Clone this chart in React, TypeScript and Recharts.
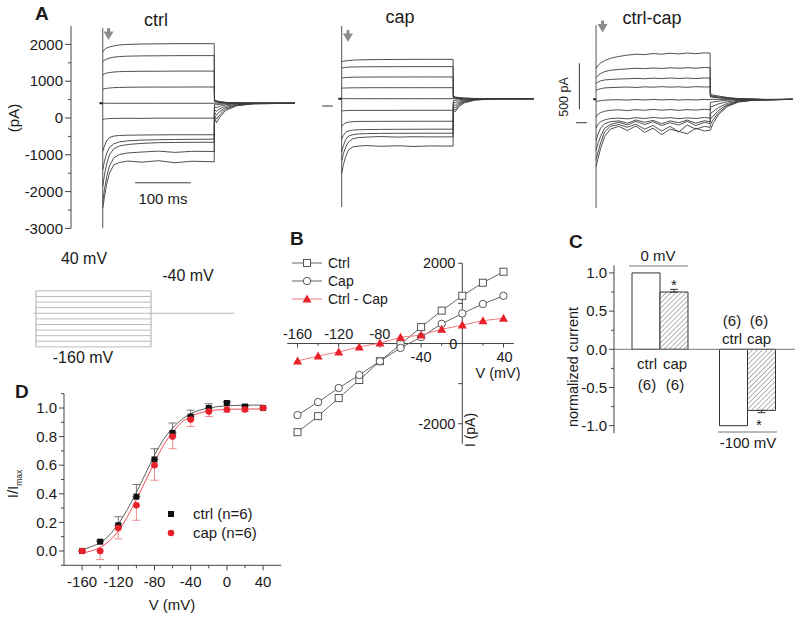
import React from 'react';
import {
  ComposedChart, Line, XAxis, YAxis, ReferenceLine, ReferenceDot, Scatter, Bar, ErrorBar,
} from 'recharts';

const FONT = 'Arial, "Liberation Sans", Helvetica, sans-serif';
const INK = '#1a1a1a';
const TRACE = '#3c3c3c';
const AXIS = '#444';
const RED = '#e8202a';

// ---------------- Panel A: current traces ----------------
const STEP_MV = [40, 20, 0, -20, -40, -60, -80, -100, -120, -140, -160];
const T_A = [0, 3, 7, 12, 20, 30, 45, 70, 100, 130, 160, 200, 200.5, 204, 210, 220, 240, 270, 345];
const CTRL_HOLD = 400;
const CTRL_TRACES = [
  [1800, 1860, 1900, 1930, 1960, 1985, 2000, 2010, 2015, 2020, 2020, 2020, 500, 470, 445, 425, 410, 405, 400],
  [1530, 1570, 1600, 1630, 1655, 1670, 1680, 1688, 1690, 1694, 1695, 1695, 480, 460, 440, 422, 410, 404, 400],
  [1170, 1200, 1220, 1235, 1250, 1260, 1265, 1270, 1270, 1275, 1275, 1275, 460, 445, 430, 418, 408, 403, 400],
  [780, 795, 805, 815, 825, 830, 835, 840, 840, 840, 842, 842, 440, 430, 420, 412, 405, 402, 400],
  [400, 400, 400, 400, 400, 400, 400, 400, 400, 400, 400, 400, 400, 400, 400, 400, 400, 400, 400],
  [-40, -30, -20, -15, -10, -10, -8, -10, -5, -5, -5, -5, 360, 360, 370, 385, 395, 400, 400],
  [-900, -760, -620, -530, -490, -475, -468, -462, -458, -455, -455, -455, 300, 280, 320, 360, 385, 397, 400],
  [-1410, -1180, -960, -800, -700, -650, -620, -600, -590, -585, -580, -575, 230, 180, 250, 320, 370, 393, 400],
  [-1860, -1550, -1250, -1000, -830, -760, -720, -690, -670, -665, -660, -660, 160, 80, 170, 280, 355, 390, 400],
  [-2270, -1950, -1600, -1300, -1080, -990, -950, -925, -900, -935, -905, -910, 80, -30, 90, 240, 340, 387, 400],
  [-2450, -2150, -1800, -1500, -1270, -1210, -1170, -1200, -1160, -1215, -1175, -1190, 20, -130, 20, 200, 330, 385, 400],
];
const CTRL_TRANSIENT = [2450, -3000];

const CAP_HOLD = 199;
const CAP_TRACES = [
  [1205, 1215, 1225, 1235, 1245, 1252, 1258, 1262, 1265, 1268, 1268, 1268, 260, 245, 230, 215, 205, 201, 199],
  [1030, 1040, 1048, 1055, 1060, 1064, 1066, 1068, 1069, 1070, 1070, 1070, 245, 235, 222, 210, 203, 200, 199],
  [760, 768, 774, 778, 782, 785, 786, 788, 788, 789, 789, 789, 230, 222, 214, 206, 202, 200, 199],
  [485, 488, 490, 492, 494, 496, 497, 498, 498, 498, 498, 498, 215, 210, 206, 203, 201, 200, 199],
  [199, 199, 199, 199, 199, 199, 199, 199, 199, 199, 199, 199, 199, 199, 199, 199, 199, 199, 199],
  [-135, -130, -125, -122, -120, -118, -118, -118, -118, -116, -116, -116, 150, 155, 170, 185, 194, 198, 199],
  [-560, -500, -460, -440, -425, -420, -418, -417, -416, -415, -414, -414, 90, 90, 130, 165, 188, 196, 199],
  [-900, -800, -720, -680, -655, -645, -640, -636, -633, -632, -630, -630, 30, 20, 90, 145, 182, 195, 199],
  [-1250, -1080, -920, -820, -780, -760, -750, -745, -742, -741, -740, -740, -30, -40, 50, 125, 175, 193, 199],
  [-1500, -1300, -1120, -980, -890, -860, -845, -830, -845, -835, -840, -838, -90, -100, 15, 105, 168, 192, 199],
  [-1830, -1600, -1380, -1200, -1110, -1090, -1075, -1095, -1080, -1100, -1085, -1090, -150, -155, -20, 85, 160, 190, 199],
];
const CAP_TRANSIENT = [2200, -2745];

const T_C = [0, 3, 8, 15, 25, 40, 55, 70, 85, 100, 115, 130, 145, 160, 175, 190, 200, 200.5, 205, 215, 230, 250, 275, 300, 345];
const DIFF_HOLD = 254;
const DIFF_TRACES = [
  [590, 620, 650, 675, 700, 720, 735, 745, 740, 752, 745, 755, 748, 758, 750, 760, 757, 320, 300, 290, 275, 262, 258, 250, 255],
  [490, 510, 535, 555, 570, 580, 585, 592, 588, 595, 590, 597, 592, 598, 593, 600, 598, 300, 290, 280, 270, 260, 256, 250, 254],
  [425, 440, 455, 465, 470, 475, 478, 482, 478, 484, 480, 486, 481, 485, 480, 487, 485, 290, 283, 275, 265, 258, 255, 252, 254],
  [350, 360, 370, 378, 382, 385, 388, 383, 390, 386, 392, 387, 390, 385, 392, 388, 390, 280, 276, 270, 262, 257, 254, 252, 254],
  [230, 235, 240, 245, 248, 250, 246, 252, 247, 253, 248, 252, 246, 251, 247, 253, 250, 254, 254, 254, 254, 254, 254, 254, 254],
  [60, 90, 110, 125, 135, 140, 132, 142, 135, 145, 136, 143, 134, 142, 137, 146, 140, 220, 225, 235, 245, 250, 252, 252, 254],
  [-60, -20, 10, 30, 45, 50, 42, 55, 45, 58, 48, 55, 44, 52, 46, 57, 50, 170, 180, 205, 228, 244, 250, 251, 254],
  [-200, -130, -60, -10, 10, 20, -5, 30, 5, 25, -10, 20, 0, 28, -5, 22, 10, 100, 120, 165, 210, 238, 248, 250, 254],
  [-300, -230, -150, -60, -20, 5, -25, 15, -20, 10, -30, 0, -25, 15, -30, 5, -10, 40, 70, 135, 195, 232, 246, 249, 254],
  [-400, -330, -220, -100, -40, -20, -50, -15, -70, -30, -90, -40, -100, -25, -70, -40, -50, -20, 30, 110, 185, 228, 244, 248, 254],
  [-478, -400, -280, -150, -70, -40, -85, -35, -105, -60, -130, -70, -95, -120, -60, -90, -80, -80, -10, 90, 175, 225, 243, 248, 254],
];
const DIFF_TRANSIENT = [1062, -927];

const A_YTICKS = [-3000, -2500, -2000, -1500, -1000, -500, 0, 500, 1000, 1500, 2000];

// ---------------- Voltage protocol ----------------
const P_HOLD = -40;
const P_LEVELS = [40, 20, 0, -20, -40, -60, -80, -100, -120, -140, -160];

// ---------------- Panel B: I-V ----------------
const B_V = [-160, -140, -120, -100, -80, -60, -40, -20, 0, 20, 40];
const B_CTRL = [-2210, -1810, -1360, -910, -440, -20, 410, 820, 1190, 1515, 1790];
const B_CAP = [-1785, -1460, -1110, -785, -440, -110, 160, 490, 750, 985, 1190];
const B_DIFF = [-435, -310, -210, -85, 10, 155, 210, 355, 460, 570, 630];
const B_XTICKS = [-160, -140, -120, -100, -80, -60, -40, -20, 20, 40];
const B_XLABELS_ABOVE = [-160, -120, -80];
const B_XLABELS_BELOW = [-40, 40];
const B_YTICKS = [-2000, -1000, 1000, 2000];
const B_YLABELS = [2000, 0, -2000];

// ---------------- Panel C: bars ----------------
const C_GROUPS = ['0 mV', '-100 mV'];
const C_CTRL = [1.0, -1.0];
const C_CAP = [0.75, -0.8];
const C_CAP_ERR = [[0, 0.035], [0.03, 0]];
const C_YTICKS = [-1.0, -0.75, -0.5, -0.25, 0, 0.25, 0.5, 0.75, 1.0];

// ---------------- Panel D: activation ----------------
const D_V = [-160, -140, -120, -100, -80, -60, -40, -20, 0, 20, 40];
const D_CTRL = [0, 0.065, 0.18, 0.38, 0.64, 0.825, 0.94, 1.0, 1.035, 1.01, 1.0];
const D_CTRL_ERR = [0, 0.01, 0.06, 0.085, 0.075, 0.07, 0.045, 0.03, 0.01, 0.01, 0];
const D_CAP = [0, 0, 0.16, 0.32, 0.6, 0.8, 0.92, 0.975, 0.99, 0.99, 1.0];
const D_CAP_ERR = [0, 0.06, 0.075, 0.105, 0.105, 0.085, 0.05, 0.035, 0.02, 0.015, 0];
const D_FIT_V = [-160, -150, -140, -130, -120, -110, -100, -90, -80, -70, -60, -50, -40, -30, -20, -10, 0, 10, 20, 30, 40];
const D_FIT_CTRL = [0.01, 0.03, 0.06, 0.11, 0.19, 0.29, 0.41, 0.54, 0.67, 0.78, 0.86, 0.92, 0.96, 0.985, 1.0, 1.01, 1.015, 1.018, 1.02, 1.02, 1.02];
const D_FIT_CAP = [-0.015, 0.0, 0.025, 0.07, 0.14, 0.24, 0.36, 0.49, 0.62, 0.74, 0.83, 0.9, 0.94, 0.965, 0.98, 0.987, 0.99, 0.992, 0.993, 0.993, 0.993];
const D_XTICKS = [-160, -140, -120, -100, -80, -60, -40, -20, 0, 20, 40];
const D_YTICKS = [-0.1, 0, 0.1, 0.2, 0.3, 0.4, 0.5, 0.6, 0.7, 0.8, 0.9, 1.0, 1.1];

// ---------------- helpers ----------------
const pts = (ts: number[], vs: number[]) => ts.map((t, i) => ({ t, v: vs[i] }));
const xy = (xs: number[], ys: number[]) => xs.map((x, i) => ({ x, y: ys[i] }));

const makeYTick = (isMajor: (v: number) => boolean, fmt: (v: number) => string, majorLen: number, minorLen: number, gap: number, fs: number) =>
  (props: any) => {
    const { x, y, payload } = props;
    const v = payload.value;
    const mj = isMajor(v);
    return (
      <g>
        <line x1={x - (mj ? majorLen : minorLen)} y1={y} x2={x} y2={y} stroke={AXIS} strokeWidth={1} />
        {mj && (
          <text x={x - majorLen - gap} y={y} dy="0.35em" textAnchor="end" fontSize={fs} fontFamily={FONT} fill={INK}>
            {fmt(v)}
          </text>
        )}
      </g>
    );
  };

const YTickA = makeYTick((v) => v % 1000 === 0, (v) => String(v), 6, 3, 2, 15);
const YTickC = makeYTick((v) => Math.abs(Math.round(v * 4)) % 2 === 0, (v) => v.toFixed(1), 5, 3, 2, 15);
const YTickD = makeYTick((v) => Math.abs(Math.round(v * 10)) % 2 === 0, (v) => v.toFixed(1), 5, 3, 2, 15);

const XTickD = (props: any) => {
  const { x, y, payload } = props;
  const v = payload.value;
  const mj = v % 40 === 0;
  return (
    <g>
      <line x1={x} y1={y} x2={x} y2={y + (mj ? 5 : 3)} stroke={AXIS} strokeWidth={1} />
      {mj && (
        <text x={x} y={y + 21.5} textAnchor="middle" fontSize={15} fontFamily={FONT} fill={INK}>
          {String(v)}
        </text>
      )}
    </g>
  );
};

const Arrow = (p: any) => {
  const { cx, cy } = p;
  return (
    <g>
      <rect x={cx - 1.5} y={cy - 6} width={3} height={4} fill="#8c8c8c" />
      <path d={`M${cx - 5},${cy - 2.5} L${cx + 5},${cy - 2.5} L${cx},${cy + 6} Z`} fill="#8c8c8c" />
    </g>
  );
};

const lineProps = { dataKey: 'v', dot: false, activeDot: false, isAnimationActive: false } as any;

export default function App() {
  const tx = (label: string, x: number, y: number, opts: any = {}) => (
    <text x={x} y={y} fontFamily={FONT} fontSize={15} fill={INK} {...opts}>{label}</text>
  );
  const cData = C_GROUPS.map((g, i) => ({ g, ctrl: C_CTRL[i], cap: C_CAP[i], capErr: C_CAP_ERR[i] }));
  const dCtrl = D_V.map((x, i) => ({ x, y: D_CTRL[i], err: [0, D_CTRL_ERR[i]] }));
  const dCap = D_V.map((x, i) => ({ x, y: D_CAP[i], err: [D_CAP_ERR[i], 0] }));

  const renderTraces = (times: number[], traces: number[][], key: string) =>
    traces.map((vs, i) => (
      <Line key={key + STEP_MV[i]} data={pts(times, vs)} {...lineProps} stroke={TRACE} strokeWidth={0.9} />
    ));

  const lbl = (text: string, dx: number, dy: number, anchor: string, fs = 14.5) => (p: any) => (
    <text x={p.cx + dx} y={p.cy + dy} textAnchor={anchor} fontSize={fs} fontFamily={FONT} fill={INK}>{text}</text>
  );

  return (
    <div style={{ position: 'absolute', left: 0, top: 0, width: 800, height: 620, background: '#fff', overflow: 'hidden', fontFamily: FONT }}>
      <svg width={0} height={0} style={{ position: 'absolute' }}>
        <defs>
          <pattern id="hatchC" patternUnits="userSpaceOnUse" width={3.5} height={3.5} patternTransform="rotate(45)">
            <rect width={3.5} height={3.5} fill="#fff" />
            <line x1={0} y1={0} x2={0} y2={3.5} stroke="#666" strokeWidth={1} />
          </pattern>
        </defs>
      </svg>

      {/* A: ctrl */}
      <div style={{ position: 'absolute', left: 0, top: 0 }}>
        <ComposedChart width={300} height={240} margin={{ top: 26, right: 5, bottom: 11.6, left: 0 }}>
          <XAxis type="number" dataKey="t" domain={[-57, 345]} hide allowDataOverflow />
          <YAxis type="number" domain={[-3000, 2500]} ticks={A_YTICKS} interval={0} width={71} tickSize={0} tickMargin={0}
            tickLine={false} axisLine={{ stroke: AXIS }} tick={YTickA} allowDataOverflow />
          <Line data={pts([0, 0], CTRL_TRANSIENT)} {...lineProps} stroke="#555" strokeWidth={1} />
          <Line data={pts([-6, 0], [CTRL_HOLD, CTRL_HOLD])} {...lineProps} stroke="#222" strokeWidth={2} />
          {renderTraces(T_A, CTRL_TRACES, 'c')}
          <ReferenceLine segment={[{ x: 58, y: -1760 }, { x: 158, y: -1760 }]} stroke={TRACE} strokeWidth={1} />
          <Scatter data={[{ t: 10.4, v: 2280 }]} dataKey="v" shape={Arrow} isAnimationActive={false} />
        </ComposedChart>
      </div>

      {/* A: cap */}
      <div style={{ position: 'absolute', left: 290, top: 0 }}>
        <ComposedChart width={260} height={240} margin={{ top: 26, right: 10.6, bottom: 11.6, left: 9.9 }}>
          <XAxis type="number" dataKey="t" domain={[-75, 355]} hide allowDataOverflow />
          <YAxis type="number" domain={[-3326, 2174]} hide allowDataOverflow />
          <Line data={pts([0, 0], CAP_TRANSIENT)} {...lineProps} stroke="#555" strokeWidth={1} />
          <Line data={pts([-6, 0], [CAP_HOLD, CAP_HOLD])} {...lineProps} stroke="#222" strokeWidth={2} />
          <Line data={pts([-35, -16], [0, 0])} {...lineProps} stroke="#333" strokeWidth={1} />
          {renderTraces(T_A, CAP_TRACES, 'p')}
          <Scatter data={[{ t: 11.3, v: 1900 }]} dataKey="v" shape={Arrow} isAnimationActive={false} />
        </ComposedChart>
      </div>

      {/* A: ctrl-cap */}
      <div style={{ position: 'absolute', left: 550, top: 0 }}>
        <ComposedChart width={250} height={240} margin={{ top: 15, right: 4.4, bottom: 30, left: 9 }}>
          <XAxis type="number" dataKey="t" domain={[-65, 350]} hide allowDataOverflow />
          <YAxis type="number" domain={[-949, 1171]} hide allowDataOverflow />
          <Line data={pts([0, 0], DIFF_TRANSIENT)} {...lineProps} stroke="#555" strokeWidth={1} />
          <Line data={pts([-5, 0], [DIFF_HOLD, DIFF_HOLD])} {...lineProps} stroke="#222" strokeWidth={2} />
          <Line data={pts([-35, -16], [0, 0])} {...lineProps} stroke="#333" strokeWidth={1} />
          <Line data={pts([-29.3, -29.3], [146, 646])} {...lineProps} stroke="#333" strokeWidth={1} />
          {renderTraces(T_C, DIFF_TRACES, 'd')}
          <Scatter data={[{ t: 11.4, v: 1046 }]} dataKey="v" shape={Arrow} isAnimationActive={false} />
        </ComposedChart>
      </div>

      {/* Voltage protocol */}
      <div style={{ position: 'absolute', left: 20, top: 275 }}>
        <ComposedChart width={230} height={90} margin={{ top: 10, right: 15.05, bottom: 12.24, left: 10.25 }}>
          <XAxis type="number" dataKey="t" domain={[-10, 346]} hide allowDataOverflow />
          <YAxis type="number" domain={[-181, 61]} hide allowDataOverflow />
          <Line data={pts([-5, 0], [P_HOLD, P_HOLD])} {...lineProps} stroke="#bbb" strokeWidth={1} />
          <Line data={pts([200, 345], [P_HOLD, P_HOLD])} {...lineProps} stroke="#bbb" strokeWidth={1} />
          <Line data={pts([0, 0], [P_LEVELS[P_LEVELS.length - 1], P_LEVELS[0]])} {...lineProps} stroke="#aaa" strokeWidth={1} />
          <Line data={pts([200, 200], [P_LEVELS[P_LEVELS.length - 1], P_LEVELS[0]])} {...lineProps} stroke="#aaa" strokeWidth={1} />
          {P_LEVELS.map((L, i) => (
            <Line key={'pl' + i} data={pts([0, 200], [L, L])} {...lineProps} stroke="#bbb" strokeWidth={1} />
          ))}
        </ComposedChart>
      </div>

      {/* B: I-V */}
      <div style={{ position: 'absolute', left: 280, top: 230 }}>
        <ComposedChart width={240} height={220} margin={{ top: 33.3, right: 6.2, bottom: 6.2, left: 7.2 }}>
          <XAxis type="number" dataKey="x" domain={[-170, 50]} hide allowDataOverflow />
          <YAxis type="number" domain={[-2500, 2000]} hide allowDataOverflow />
          <ReferenceLine y={0} stroke={AXIS} strokeWidth={1} />
          <ReferenceLine x={0} stroke={AXIS} strokeWidth={1} />
          {B_XTICKS.map((v) => (
            <ReferenceLine key={'bx' + v} segment={[{ x: v, y: 0 }, { x: v, y: v % 40 === 0 ? -100 : -55 }]} stroke={AXIS} strokeWidth={1} />
          ))}
          {B_YTICKS.map((v) => (
            <ReferenceLine key={'by' + v} segment={[{ x: 0, y: v }, { x: -4, y: v }]} stroke={AXIS} strokeWidth={1} />
          ))}
          {B_XLABELS_ABOVE.map((v) => (
            <ReferenceDot key={'bla' + v} x={v} y={0} r={0} shape={lbl(String(v), 0, -4.5, 'middle')} />
          ))}
          {B_XLABELS_BELOW.map((v) => (
            <ReferenceDot key={'blb' + v} x={v} y={0} r={0} shape={lbl(String(v), v > 0 ? 1 : 0, 18.5, 'middle')} />
          ))}
          {B_YLABELS.map((v) => (
            <ReferenceDot key={'bly' + v} x={0} y={v} r={0} shape={lbl(String(v), v === 0 ? -5 : -7, 5, 'end')} />
          ))}
          <Line data={xy(B_V, B_CTRL)} dataKey="y" stroke="#666" strokeWidth={1} isAnimationActive={false} activeDot={false}
            dot={(p: any) => <rect key={'sq' + p.index} x={p.cx - 3.5} y={p.cy - 3.5} width={7} height={7} fill="#fff" stroke="#555" strokeWidth={1} />} />
          <Line data={xy(B_V, B_CAP)} dataKey="y" stroke="#666" strokeWidth={1} isAnimationActive={false} activeDot={false}
            dot={(p: any) => <circle key={'ci' + p.index} cx={p.cx} cy={p.cy} r={3.7} fill="#fff" stroke="#555" strokeWidth={1} />} />
          <Line data={xy(B_V, B_DIFF)} dataKey="y" stroke="#f07a7a" strokeWidth={1} isAnimationActive={false} activeDot={false}
            dot={(p: any) => <path key={'tr' + p.index} d={`M${p.cx - 4.5},${p.cy + 3.5} L${p.cx + 4.5},${p.cy + 3.5} L${p.cx},${p.cy - 4.5} Z`} fill={RED} />} />
        </ComposedChart>
      </div>

      {/* C: bars */}
      <div style={{ position: 'absolute', left: 540, top: 240 }}>
        <ComposedChart width={260} height={210} data={cData} margin={{ top: 25.3, right: 5, bottom: 16.7, left: 0 }} barGap={0}>
          <XAxis dataKey="g" type="category" hide padding={{ left: 2, right: 4 }} />
          <YAxis type="number" domain={[-1.1, 1.1]} ticks={C_YTICKS} interval={0} width={74} tickSize={0} tickMargin={0}
            tickLine={false} axisLine={{ stroke: AXIS }} tick={YTickC} allowDataOverflow />
          <Bar dataKey="ctrl" barSize={28} fill="#fff" stroke="#333" strokeWidth={1} isAnimationActive={false} />
          <Bar dataKey="cap" barSize={28} fill="url(#hatchC)" stroke="#333" strokeWidth={1} isAnimationActive={false}>
            <ErrorBar dataKey="capErr" direction="y" width={4} stroke="#333" strokeWidth={1} />
          </Bar>
          <ReferenceLine y={0} stroke="#777" strokeWidth={1} />
        </ComposedChart>
      </div>

      {/* D: activation */}
      <div style={{ position: 'absolute', left: 0, top: 380 }}>
        <ComposedChart width={300} height={240} margin={{ top: 13.7, right: 18.8, bottom: 24.7, left: 0 }}>
          <XAxis type="number" dataKey="x" domain={[-180, 60]} ticks={D_XTICKS} interval={0} height={30} tickSize={0} tickMargin={0}
            tickLine={false} axisLine={{ stroke: AXIS }} tick={XTickD} allowDataOverflow />
          <YAxis type="number" domain={[-0.1, 1.1]} ticks={D_YTICKS} interval={0} width={64} tickSize={0} tickMargin={0}
            tickLine={false} axisLine={{ stroke: AXIS }} tick={YTickD} allowDataOverflow />
          <Line data={xy(D_FIT_V, D_FIT_CTRL)} dataKey="y" type="monotone" stroke="#333" strokeWidth={0.8} dot={false} activeDot={false} isAnimationActive={false} />
          <Line data={xy(D_FIT_V, D_FIT_CAP)} dataKey="y" type="monotone" stroke={RED} strokeWidth={0.8} dot={false} activeDot={false} isAnimationActive={false} />
          <Scatter data={dCtrl} dataKey="y" isAnimationActive={false}
            shape={(p: any) => <rect x={p.cx - 3} y={p.cy - 3} width={6} height={6} fill="#111" />}>
            <ErrorBar dataKey="err" direction="y" width={4} stroke="#555" strokeWidth={0.8} />
          </Scatter>
          <Scatter data={dCap} dataKey="y" isAnimationActive={false}
            shape={(p: any) => <circle cx={p.cx} cy={p.cy} r={3.3} fill={RED} />}>
            <ErrorBar dataKey="err" direction="y" width={4} stroke="#e87070" strokeWidth={0.8} />
          </Scatter>
        </ComposedChart>
      </div>

      {/* Text overlay */}
      <svg width={800} height={620} style={{ position: 'absolute', left: 0, top: 0, pointerEvents: 'none' }}>
        {tx('A', 35, 20, { fontWeight: 'bold', fontSize: 19 })}
        {tx('B', 290, 245, { fontWeight: 'bold', fontSize: 19 })}
        {tx('C', 569, 248, { fontWeight: 'bold', fontSize: 19 })}
        {tx('D', 15, 398, { fontWeight: 'bold', fontSize: 19 })}

        {tx('ctrl', 156, 26, { fontSize: 18, textAnchor: 'middle' })}
        {tx('cap', 400, 23, { fontSize: 18, textAnchor: 'middle' })}
        {tx('ctrl-cap', 652, 24, { fontSize: 18, textAnchor: 'middle' })}
        {tx('(pA)', 0, 0, { transform: 'translate(19,118) rotate(-90)', textAnchor: 'middle' })}
        {tx('100 ms', 163, 204, { textAnchor: 'middle' })}
        {tx('500 pA', 0, 0, { transform: 'translate(568,97) rotate(-90)', textAnchor: 'middle', fontSize: 12.5 })}

        {tx('40 mV', 84, 264, { textAnchor: 'middle', fontSize: 16 })}
        {tx('-40 mV', 188, 281, { textAnchor: 'middle', fontSize: 16 })}
        {tx('-160 mV', 83, 363, { textAnchor: 'middle', fontSize: 16 })}

        {/* B legend */}
        <line x1={292} y1={263} x2={322} y2={263} stroke="#666" strokeWidth={1} />
        <rect x={303.5} y={259.5} width={7} height={7} fill="#fff" stroke="#555" strokeWidth={1} />
        {tx('Ctrl', 328, 268, { fontSize: 14 })}
        <line x1={292} y1={281} x2={322} y2={281} stroke="#666" strokeWidth={1} />
        <circle cx={307} cy={281} r={3.7} fill="#fff" stroke="#555" strokeWidth={1} />
        {tx('Cap', 328, 286, { fontSize: 14 })}
        <line x1={292} y1={299} x2={322} y2={299} stroke="#f07a7a" strokeWidth={1} />
        <path d="M302.5,302.5 L311.5,302.5 L307,294.5 Z" fill={RED} />
        {tx('Ctrl - Cap', 328, 304, { fontSize: 14 })}
        {tx('V (mV)', 498, 378, { textAnchor: 'middle', fontSize: 14.5 })}
        {tx('I (pA)', 0, 0, { transform: 'translate(475,430) rotate(-90)', textAnchor: 'middle', fontSize: 14 })}

        {/* C annotations */}
        {tx('0 mV', 658, 261, { textAnchor: 'middle' })}
        <line x1={629} y1={266} x2={688} y2={266} stroke="#777" strokeWidth={1} />
        {tx('*', 674, 290, { textAnchor: 'middle' })}
        {tx('ctrl', 647, 369, { textAnchor: 'middle' })}
        {tx('cap', 675, 369, { textAnchor: 'middle' })}
        {tx('(6)', 647, 390, { textAnchor: 'middle' })}
        {tx('(6)', 675, 390, { textAnchor: 'middle' })}
        {tx('(6)', 732, 326, { textAnchor: 'middle' })}
        {tx('(6)', 759, 326, { textAnchor: 'middle' })}
        {tx('ctrl', 732, 344, { textAnchor: 'middle' })}
        {tx('cap', 759, 344, { textAnchor: 'middle' })}
        {tx('*', 759, 430, { textAnchor: 'middle' })}
        <line x1={718} y1={432} x2={777} y2={432} stroke="#777" strokeWidth={1} />
        {tx('-100 mV', 748, 448, { textAnchor: 'middle' })}
        {tx('normalized current', 0, 0, { transform: 'translate(578,367) rotate(-90)', textAnchor: 'middle', fontSize: 14.5 })}

        {/* D annotations */}
        <text transform="translate(18,484) rotate(-90)" textAnchor="middle" fontFamily={FONT} fontSize={15} fill={INK}>
          I/I<tspan fontSize={8.5} dy={4}>max</tspan>
        </text>
        {tx('V (mV)', 172, 610, { textAnchor: 'middle' })}
        <rect x={168} y={511} width={6} height={6} fill="#111" />
        {tx('ctrl (n=6)', 193, 519)}
        <circle cx={171} cy={533} r={3.3} fill={RED} />
        {tx('cap (n=6)', 193, 538)}
      </svg>
    </div>
  );
}
